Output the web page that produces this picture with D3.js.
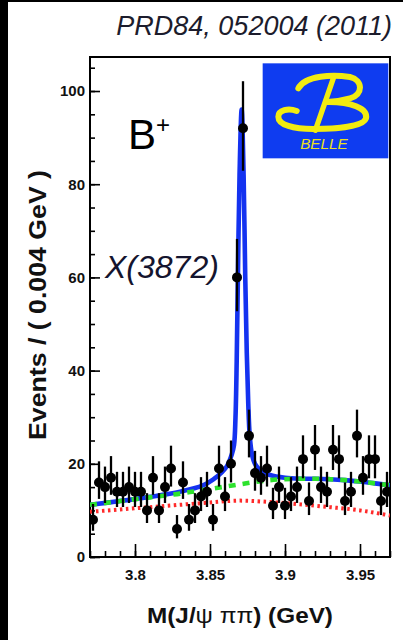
<!DOCTYPE html>
<html>
<head>
<meta charset="utf-8">
<script src="https://cdn.jsdelivr.net/npm/d3@7"></script>
<style>
  html, body { margin: 0; padding: 0; background: #fff; }
  svg { display: block; }
  text { font-family: "Liberation Sans", Arial, sans-serif; }
</style>
</head>
<body>
<div id="chart"></div>
<script>
// Belle B+ -> X(3872) K+, J/psi pi pi mass spectrum
const BIN_LOW = 3.77;
const BIN_WIDTH = 0.004;
const eventCounts = [
  8, 16, 15, 17, 14, 14, 15, 14, 14, 10,
  17, 10, 15, 19, 6, 16, 8, 10, 13, 14,
  8, 19, 13, 20, 60, 92, 26, 18, 17, 19,
  11, 15, 11, 13, 15, 21, 12, 23, 15, 14,
  23, 21, 12, 14, 26, 17, 21, 21, 12, 14
];

// total fit (blue)
const totalFitMass = [3.770, 3.790, 3.810, 3.830, 3.845, 3.852, 3.858, 3.8613, 3.8645, 3.866, 3.867, 3.8678, 3.8686, 3.8697, 3.8711, 3.8724, 3.8735, 3.8745, 3.8755, 3.8765, 3.878, 3.880, 3.884, 3.890, 3.900, 3.910, 3.920, 3.930, 3.940, 3.950, 3.960, 3.970];
const totalFitEvents = [11.2, 12.0, 12.9, 14.0, 15.3, 16.6, 18.2, 19.5, 22, 24, 30, 42, 60, 82, 96, 82, 60, 44, 33, 26, 22, 20, 18.5, 17.6, 17.0, 16.8, 16.8, 16.7, 16.5, 16.2, 15.8, 15.4];

// total background (green dashed)
const bkgMass = [3.770, 3.780, 3.790, 3.800, 3.810, 3.820, 3.830, 3.840, 3.850, 3.860, 3.870, 3.880, 3.890, 3.900, 3.910, 3.920, 3.930, 3.940, 3.950, 3.960, 3.970];
const bkgEvents = [11.2, 11.6, 12.0, 12.4, 12.8, 13.2, 13.6, 14.1, 14.6, 15.1, 15.6, 16.1, 16.5, 16.7, 16.8, 16.8, 16.7, 16.5, 16.2, 15.8, 15.4];

// background component (red dotted)
const combMass = [3.770, 3.790, 3.810, 3.830, 3.850, 3.870, 3.890, 3.910, 3.930, 3.950, 3.970];
const combEvents = [9.7, 10.2, 10.7, 11.2, 11.7, 12.1, 11.8, 11.3, 10.7, 10.0, 8.9];

const yMajorTicks = [0, 20, 40, 60, 80, 100];
const xMajorTicks = [3.8, 3.85, 3.9, 3.95];

const WIDTH = 403;
const HEIGHT = 640;
const PLOT_LEFT = 90;
const PLOT_RIGHT = 390;
const PLOT_TOP = 57;
const PLOT_BOTTOM = 557;

const svg = d3.select("#chart")
  .append("svg")
  .attr("width", WIDTH)
  .attr("height", HEIGHT)
  .attr("viewBox", [0, 0, WIDTH, HEIGHT]);

// page edges of the scan
svg.append("rect").attr("x", 0).attr("y", 0).attr("width", 8).attr("height", HEIGHT).attr("fill", "#000");
svg.append("rect").attr("x", 0).attr("y", 0).attr("width", WIDTH).attr("height", 2).attr("fill", "#000");

const x = d3.scaleLinear().domain([3.77, 3.97]).range([PLOT_LEFT, PLOT_RIGHT]);
const y = d3.scaleLinear().domain([0, 107.3]).range([PLOT_BOTTOM, PLOT_TOP]);

svg.append("defs").append("clipPath").attr("id", "plot-clip")
  .append("rect")
  .attr("x", PLOT_LEFT).attr("y", PLOT_TOP)
  .attr("width", PLOT_RIGHT - PLOT_LEFT).attr("height", PLOT_BOTTOM - PLOT_TOP);

// axes, ticks pointing inwards like ROOT
const yMinor = d3.range(0, 106, 5);
const xMinor = d3.range(0, 21).map((i) => 3.77 + i * 0.01);

function styleAxis(g) {
  g.select(".domain").remove();
  g.selectAll(".tick line").attr("stroke", "#000").attr("stroke-width", 1.6);
  g.selectAll(".tick text")
    .attr("fill", "#111")
    .style("font-size", "15px")
    .style("font-weight", "bold");
}

svg.append("g")
  .attr("transform", `translate(${PLOT_LEFT},0)`)
  .call(d3.axisLeft(y).tickValues(yMinor).tickSize(-5).tickFormat(""))
  .call(styleAxis);
svg.append("g")
  .attr("transform", `translate(${PLOT_LEFT},0)`)
  .call(d3.axisLeft(y).tickValues(yMajorTicks).tickSize(-10).tickPadding(5).tickFormat(d3.format("d")))
  .call(styleAxis);

svg.append("g")
  .attr("transform", `translate(0,${PLOT_BOTTOM})`)
  .call(d3.axisBottom(x).tickValues(xMinor).tickSize(-6).tickFormat(""))
  .call(styleAxis);
svg.append("g")
  .attr("transform", `translate(0,${PLOT_BOTTOM})`)
  .call(d3.axisBottom(x).tickValues(xMajorTicks).tickSize(-13).tickPadding(12).tickFormat((d) => String(d)))
  .call(styleAxis);

// frame
svg.append("rect")
  .attr("x", PLOT_LEFT).attr("y", PLOT_TOP)
  .attr("width", PLOT_RIGHT - PLOT_LEFT).attr("height", PLOT_BOTTOM - PLOT_TOP)
  .attr("fill", "none").attr("stroke", "#000").attr("stroke-width", 2);

// fit curves
const curveLayer = svg.append("g").attr("clip-path", "url(#plot-clip)");
const lineOf = (masses, events, curve) => d3.line()
  .x((d, i) => x(masses[i]))
  .y((d, i) => y(events[i]))
  .curve(curve)(masses);

curveLayer.append("path")
  .attr("d", lineOf(combMass, combEvents, d3.curveMonotoneX))
  .attr("fill", "none").attr("stroke", "#ff2a2a").attr("stroke-width", 4)
  .attr("stroke-dasharray", "2.5 3.5");

curveLayer.append("path")
  .attr("d", lineOf(totalFitMass, totalFitEvents, d3.curveCatmullRom.alpha(0.5)))
  .attr("fill", "none").attr("stroke", "#1432f0").attr("stroke-width", 4.6)
  .attr("stroke-linejoin", "round");

curveLayer.append("path")
  .attr("d", lineOf(bkgMass, bkgEvents, d3.curveMonotoneX))
  .attr("fill", "none").attr("stroke", "#2de22d").attr("stroke-width", 4.6)
  .attr("stroke-dasharray", "7 7");

// data points with Poisson-like error bars
const binCenters = eventCounts.map((_, i) => BIN_LOW + BIN_WIDTH * (i + 0.5));
const pointsLayer = svg.append("g").attr("clip-path", "url(#plot-clip)");
pointsLayer.selectAll("line.err")
  .data(eventCounts)
  .join("line")
  .attr("class", "err")
  .attr("x1", (d, i) => x(binCenters[i]))
  .attr("x2", (d, i) => x(binCenters[i]))
  .attr("y1", (d) => y(d - Math.sqrt(d + 0.25) + 0.5))
  .attr("y2", (d) => y(d + Math.sqrt(d + 0.25) + 0.5))
  .attr("stroke", "#000").attr("stroke-width", 2.3);
pointsLayer.selectAll("circle.pt")
  .data(eventCounts)
  .join("circle")
  .attr("class", "pt")
  .attr("cx", (d, i) => x(binCenters[i]))
  .attr("cy", (d) => y(d))
  .attr("r", 5)
  .attr("fill", "#000");

// axis titles
svg.append("text")
  .attr("x", 240).attr("y", 623)
  .attr("text-anchor", "middle")
  .attr("textLength", 186).attr("lengthAdjust", "spacingAndGlyphs")
  .style("font-size", "22px").style("font-weight", "bold").attr("fill", "#111")
  .call((t) => {
    t.append("tspan").text("M(J/");
    t.append("tspan").style("font-weight", "normal").text("ψ ππ");
    t.append("tspan").text(") (GeV)");
  });

svg.append("text")
  .attr("transform", "translate(46,305) rotate(-90)")
  .attr("text-anchor", "middle")
  .attr("textLength", 270).attr("lengthAdjust", "spacingAndGlyphs")
  .style("font-size", "23px").style("font-weight", "bold").attr("fill", "#111")
  .text("Events / ( 0.004 GeV )");

// annotations
svg.append("text")
  .attr("x", 392).attr("y", 35)
  .attr("text-anchor", "end")
  .style("font-size", "27px").style("font-style", "italic").attr("fill", "#1c1c2c")
  .text("PRD84, 052004 (2011)");

const bLabel = svg.append("text")
  .attr("x", 128).attr("y", 149)
  .style("font-size", "42px").attr("fill", "#000");
bLabel.append("tspan").text("B");
bLabel.append("tspan").attr("dy", -16).style("font-size", "24px").text("+");

svg.append("text")
  .attr("x", 105).attr("y", 278)
  .style("font-size", "32px").style("font-style", "italic").attr("fill", "#14142e")
  .text("X(3872)");

// Belle logo
const logo = svg.append("g").attr("transform", "translate(250,55) scale(0.3333)");
logo.append("rect")
  .attr("x", 38).attr("y", 25).attr("width", 377).attr("height", 285)
  .attr("fill", "#0f3cf0");
const logoStroke = (d, w) => logo.append("path").attr("d", d)
  .attr("fill", "none").attr("stroke", "#f2ec10").attr("stroke-width", w)
  .attr("stroke-linecap", "round");
logoStroke("M145,100 C165,60 250,58 300,66 C340,75 340,120 300,130 C275,137 250,140 232,141", 18);
logoStroke("M232,141 C300,140 355,160 348,190 C340,215 260,222 190,222 C130,222 85,210 85,185 C85,165 115,158 140,168", 18);
logoStroke("M252,64 L196,226", 16);
logo.append("text")
  .attr("x", 222).attr("y", 283)
  .attr("text-anchor", "middle")
  .style("font-size", "46px").style("font-style", "italic")
  .attr("fill", "#e8e020")
  .text("BELLE");
</script>
</body>
</html>
